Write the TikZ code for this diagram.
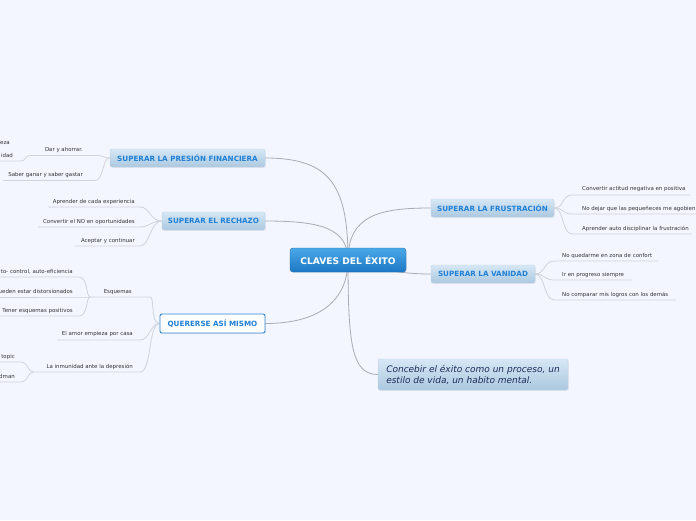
\documentclass[tikz,border=0pt]{standalone}
\usepackage{fontspec}
\setmainfont{DejaVu Sans}
\usetikzlibrary{shadows}
\definecolor{bg}{HTML}{F3F6FE}
\definecolor{mainline}{HTML}{AAACB4}
\definecolor{ulgray}{HTML}{CFD3DB}
\definecolor{ctop}{HTML}{4AA8E8}
\definecolor{cbot}{HTML}{1C78C4}
\definecolor{cborder}{HTML}{1D6DB3}
\definecolor{ttop}{HTML}{D6E7F5}
\definecolor{tbot}{HTML}{ABC8E0}
\definecolor{tborder}{HTML}{BFD3E6}
\definecolor{tblue}{HTML}{1F80D6}
\definecolor{leaftext}{HTML}{333333}
\definecolor{navy}{HTML}{1E2C5A}
\definecolor{qborder}{HTML}{2F86D6}
\pgfdeclarelayer{edges}
\pgfsetlayers{edges,main}
\tikzset{
  central/.style={rounded corners=3pt, draw=cborder, top color=ctop, bottom color=cbot,
    text=white, font=\fontsize{9.1}{10}\selectfont\bfseries, inner sep=0pt,
    minimum width=116pt, minimum height=24pt,
    drop shadow={opacity=0.15, shadow xshift=0.8pt, shadow yshift=-0.8pt}},
  topic/.style={rounded corners=2pt, draw=tborder, top color=ttop, bottom color=tbot,
    text=tblue, font=\fontsize{7.2}{8}\selectfont\bfseries, inner sep=0pt,
    minimum height=18pt,
    drop shadow={opacity=0.12, shadow xshift=0.8pt, shadow yshift=-0.8pt}},
  topicw/.style={rounded corners=2pt, draw=qborder, line width=0.9pt, fill=white,
    text=tblue, font=\fontsize{7.2}{8}\selectfont\bfseries, inner sep=0pt,
    minimum height=19pt,
    drop shadow={opacity=0.12, shadow xshift=0.8pt, shadow yshift=-0.8pt}},
  note/.style={rounded corners=2pt, draw=tborder, top color=ttop, bottom color=tbot,
    text=navy, font=\fontsize{9}{11}\selectfont\itshape, inner sep=0pt, align=left,
    minimum width=190pt, minimum height=31pt,
    drop shadow={opacity=0.12, shadow xshift=0.8pt, shadow yshift=-0.8pt}},
  leaf/.style={text=leaftext, font=\fontsize{5.45}{6}\selectfont, inner sep=0pt},
  lw/.style={leaf, anchor=base west},
  le/.style={leaf, anchor=base east},
  conn/.style={draw=mainline, line width=0.8pt},
  ul/.style={draw=ulgray, line width=0.8pt},
}
\begin{document}
\begin{tikzpicture}[x=1pt,y=-1pt]
\useasboundingbox (0,0) rectangle (696,520);
% ---------- main nodes
\node[central] (c) at (348,260) {CLAVES DEL ÉXITO};
\node[topic, minimum width=155pt] (pf) at (187.5,158) {SUPERAR LA PRESIÓN FINANCIERA};
\node[topic, minimum width=103pt] (rz) at (213.5,221) {SUPERAR EL RECHAZO};
\node[topicw, minimum width=105pt] (qm) at (212.5,323.5) {QUERERSE ASÍ MISMO};
\node[topic, minimum width=123pt] (fr) at (492.5,208) {SUPERAR LA FRUSTRACIÓN};
\node[topic, minimum width=104pt] (va) at (483,274) {SUPERAR LA VANIDAD};
\node[note] (cb) at (473,374.5) {Concebir el éxito como un proceso, un\\estilo de vida, un habito mental.};
% ---------- leaves: frustracion
\node[lw] (f1) at (582,190.5) {Convertir actitud negativa en positiva};
\node[lw] (f2) at (582,210.5) {No dejar que las pequeñeces me agobien};
\node[lw] (f3) at (582,230.5) {Aprender auto disciplinar la frustración};
\coordinate (f1a) at (572,195); \coordinate (f1b) at (690,195);
\coordinate (f2a) at (572,214); \coordinate (f2b) at (698,214);
\coordinate (f3a) at (572,234); \coordinate (f3b) at (692,234);
% ---------- leaves: vanidad
\node[lw] (v1) at (562,257.2) {No quedarme en zona de confort};
\node[lw] (v2) at (562,276.2) {Ir en progreso siempre};
\node[lw] (v3) at (562,296.2) {No comparar mis logros con los demás};
\coordinate (v1a) at (554,261); \coordinate (v1b) at (658,261);
\coordinate (v2a) at (554,280); \coordinate (v2b) at (632,280);
\coordinate (v3a) at (554,300); \coordinate (v3b) at (676,300);
% ---------- leaves: rechazo
\node[le] (r1) at (135,203.2) {Aprender de cada experiencia};
\node[le] (r2) at (135,223.2) {Convertir el NO en oportunidades};
\node[le] (r3) at (135,242.2) {Aceptar y continuar};
\coordinate (r1a) at (140,207); \coordinate (r1b) at (48,207);
\coordinate (r2a) at (140,227); \coordinate (r2b) at (38,227);
\coordinate (r3a) at (140,246); \coordinate (r3b) at (75,246);
% ---------- leaves: presion financiera
\node[le] (p1) at (83,151.2) {Dar y ahorrar.};
\node[le] (p2) at (83,176.2) {Saber ganar y saber gastar};
\coordinate (p1a) at (97,155.5); \coordinate (p1b) at (30,155.5);
\coordinate (p2a) at (95,180.5); \coordinate (p2b) at (3,180.5);
\node[le] (p11) at (10,144) {eza};
\node[le] (p12) at (13,157) {idad};
\coordinate (p12a) at (21,161); \coordinate (p12b) at (-2,161);
% ---------- leaves: quererse
\node[le] (q1) at (132,293.2) {Esquemas};
\node[le] (q2) at (133,335.7) {El amor empieza por casa};
\node[le] (q3) at (133,368.2) {La inmunidad ante la depresión};
\coordinate (q1a) at (150,297); \coordinate (q1b) at (90,297);
\coordinate (q2a) at (140,340); \coordinate (q2b) at (57,340);
\coordinate (q3a) at (140,372); \coordinate (q3b) at (33,372);
\node[le] (e1) at (73,273.2) {to- control, auto-eficiencia};
\node[le] (e2) at (73,293.2) {ueden estar distorsionados};
\node[le] (e3) at (73,312.2) {Tener esquemas positivos};
\coordinate (e1a) at (79,277); \coordinate (e1b) at (-2,277);
\coordinate (e2a) at (79,297); \coordinate (e2b) at (-2,297);
\coordinate (e3a) at (79,316); \coordinate (e3b) at (-2,316);
\node[le] (i1) at (15,358.2) {topic};
\node[le] (i2) at (15,378.2) {dman};
\coordinate (i1a) at (21,362); \coordinate (i1b) at (-2,362);
\coordinate (i2a) at (21,382); \coordinate (i2b) at (-2,382);
% ---------- connectors
\begin{pgfonlayer}{edges}
\fill[bg] (0,0) rectangle (696,520);
\draw[conn] (c.center) .. controls (348,185) and (330,158) .. (pf.east);
\draw[conn] (c.center) .. controls (348,228) and (320,221) .. (rz.east);
\draw[conn] (c.center) .. controls (348,300) and (320,323.5) .. (qm.east);
\draw[conn] (c.center) .. controls (348,215) and (380,208) .. (fr.west);
\draw[conn] (c.center) .. controls (385,272) and (410,274) .. (va.west);
\draw[conn] (c.center) .. controls (348,345) and (352,374.5) .. (cb.west);
% frustracion
\draw[ul] (fr.east) .. controls (564,208) and (562,195) .. (f1a) -- (f1b);
\draw[ul] (fr.east) .. controls (564,208) and (562,214) .. (f2a) -- (f2b);
\draw[ul] (fr.east) .. controls (564,208) and (562,234) .. (f3a) -- (f3b);
% vanidad
\draw[ul] (va.east) .. controls (545,274) and (544,261) .. (v1a) -- (v1b);
\draw[ul] (va.east) .. controls (545,274) and (544,280) .. (v2a) -- (v2b);
\draw[ul] (va.east) .. controls (545,274) and (544,300) .. (v3a) -- (v3b);
% rechazo
\draw[ul] (rz.west) .. controls (150,221) and (150,207) .. (r1a) -- (r1b);
\draw[ul] (rz.west) .. controls (150,221) and (150,227) .. (r2a) -- (r2b);
\draw[ul] (rz.west) .. controls (150,221) and (150,246) .. (r3a) -- (r3b);
% presion
\draw[ul] (pf.west) .. controls (104,158) and (103,155.5) .. (p1a) -- (p1b);
\draw[ul] (pf.west) .. controls (102,158) and (104,180.5) .. (p2a) -- (p2b);
\draw[ul] (p1b) .. controls (25,155.5) and (26,161) .. (p12a) -- (p12b);
% quererse
\draw[ul] (qm.west) .. controls (150,323.5) and (155,297) .. (q1a) -- (q1b);
\draw[ul] (qm.west) .. controls (150,323.5) and (150,340) .. (q2a) -- (q2b);
\draw[ul] (qm.west) .. controls (148,323.5) and (152,372) .. (q3a) -- (q3b);
\draw[ul] (q1b) .. controls (86,297) and (88,277) .. (e1a) -- (e1b);
\draw[ul] (q1b) -- (e2a) -- (e2b);
\draw[ul] (q1b) .. controls (86,297) and (88,316) .. (e3a) -- (e3b);
\draw[ul] (q3b) .. controls (28,372) and (28,362) .. (i1a) -- (i1b);
\draw[ul] (q3b) .. controls (28,372) and (28,382) .. (i2a) -- (i2b);
\end{pgfonlayer}
\end{tikzpicture}
\end{document}
